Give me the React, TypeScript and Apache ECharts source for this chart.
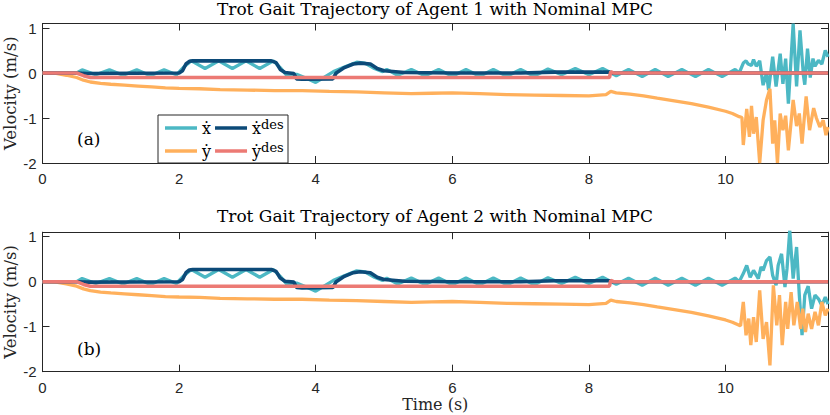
import React, { useEffect, useRef } from 'react';
import * as echarts from 'echarts';

// ---------- labels ----------
const X_DOT = '\u1E8B';
const Y_DOT = '\u1E8F';
const X_DES = X_DOT + 'des';
const Y_DES = Y_DOT + 'des';
const titles = [
  'Trot Gait Trajectory of Agent 1 with Nominal MPC',
  'Trot Gait Trajectory of Agent 2 with Nominal MPC',
];
const panelTags = ['(a)', '(b)'];
const xLabel = 'Time (s)';
const yLabel = 'Velocity (m/s)';

// ---------- data: [time (s), velocity (m/s)] ----------
// shared part (both agents look the same up to ~10.2 s)
const xDotBody: [number, number][] = [
  [0, 0], [0.3, 0], [0.5, 0], [0.58, 0.07], [0.78, -0.04], [0.98, 0.07], [1.18, -0.05],
  [1.38, 0.07], [1.58, -0.06], [1.78, 0.07], [1.96, -0.04], [2.06, 0.12], [2.18, 0.27],
  [2.38, 0.1], [2.58, 0.27], [2.78, 0.1], [2.98, 0.27], [3.18, 0.1], [3.38, 0.27],
  [3.48, 0.12], [3.58, -0.06], [3.72, -0.03], [3.88, -0.13], [4.0, -0.21], [4.14, -0.08],
  [4.26, 0.03], [4.42, 0.13], [4.6, 0.24], [4.72, 0.22], [4.86, 0.1], [4.98, 0.03],
  [5.04, 0.08], [5.2, -0.05], [5.4, 0.08], [5.6, -0.06], [5.8, 0.08], [6.0, -0.07],
  [6.2, 0.08], [6.4, -0.07], [6.6, 0.08], [6.8, -0.07], [7.0, 0.08], [7.2, -0.07],
  [7.4, 0.09], [7.6, -0.04], [7.8, 0.1], [8.0, -0.04], [8.2, 0.1], [8.4, -0.06],
  [8.58, 0.08], [8.78, -0.08], [8.97, 0.08], [9.16, -0.08], [9.36, 0.08], [9.56, -0.08],
  [9.75, 0.08], [9.95, -0.08], [10.14, 0.08],
];
const yDotBody: [number, number][] = [
  [0, 0], [0.2, -0.01], [0.35, -0.05], [0.5, -0.1], [0.6, -0.16], [0.7, -0.2], [0.85, -0.23],
  [1.0, -0.25], [1.2, -0.27], [1.4, -0.29], [1.6, -0.31], [1.8, -0.33], [2.0, -0.34],
  [2.3, -0.35], [2.6, -0.37], [3.0, -0.38], [3.4, -0.39], [3.8, -0.39], [4.2, -0.41],
  [4.6, -0.42], [5.0, -0.44], [5.4, -0.46], [5.7, -0.45], [6.0, -0.44], [6.4, -0.46],
  [6.8, -0.48], [7.2, -0.49], [7.6, -0.5], [8.0, -0.51], [8.25, -0.48], [8.32, -0.41],
  [8.4, -0.44], [8.6, -0.47], [8.8, -0.51], [9.0, -0.56], [9.25, -0.62], [9.5, -0.68],
  [9.75, -0.76], [10.0, -0.85], [10.1, -0.9], [10.2, -0.97],
];
const xDesBody: [number, number][] = [
  [0, 0], [0.5, 0], [0.65, -0.01], [2.0, 0.0], [2.05, 0.05], [2.1, 0.2], [2.15, 0.26],
  [2.2, 0.27], [3.35, 0.27], [3.42, 0.23], [3.48, 0.08], [3.55, 0.01], [3.68, -0.01],
  [3.72, -0.13], [3.8, -0.14], [4.25, -0.13], [4.3, 0.0], [4.42, 0.12], [4.55, 0.2],
  [4.65, 0.22], [4.8, 0.2], [4.9, 0.1], [5.0, 0.05], [5.3, 0.01], [6.0, 0.0], [7.0, 0.0],
  [7.5, 0.02], [8.0, 0.02], [8.3, 0.02], [8.32, 0.0], [11.5, 0.0],
];
const yDesBody: [number, number][] = [
  [0, 0], [0.5, 0], [0.6, -0.06], [0.7, -0.1], [8.3, -0.1], [8.32, 0.03], [8.36, 0.0], [11.5, 0.0],
];

// end of run, Agent 1
const xDotTail1: [number, number][] = [
  [10.2, 0.0], [10.26, 0.22], [10.3, 0.27], [10.33, 0.2], [10.38, 0.17], [10.41, 0.3],
  [10.45, 0.15], [10.5, 0.27], [10.55, -0.27], [10.6, 0.0], [10.63, -0.38], [10.69, 0.36],
  [10.74, -0.3], [10.8, 0.43], [10.84, -0.24], [10.88, 0.32], [10.92, -0.68], [10.99, 1.1],
  [11.04, -0.3], [11.09, 0.95], [11.14, -0.05], [11.16, -0.26], [11.2, 0.54], [11.24, -0.1],
  [11.28, 0.32], [11.31, 0.15], [11.36, 0.28], [11.41, 0.2], [11.46, 0.5], [11.5, 0.36],
];
const yDotTail1: [number, number][] = [
  [10.24, -0.99], [10.26, -1.6], [10.31, -0.8], [10.35, -1.42], [10.38, -0.73], [10.41, -1.35],
  [10.45, -0.98], [10.5, -2.0], [10.55, -1.05], [10.6, -0.6], [10.65, -0.35], [10.69, -1.57],
  [10.72, -1.05], [10.76, -2.0], [10.8, -0.9], [10.84, -1.27], [10.88, -0.95], [10.92, -1.72],
  [10.99, -0.6], [11.04, -1.18], [11.08, -0.9], [11.12, -1.57], [11.18, -0.52], [11.23, -1.27],
  [11.29, -0.78], [11.33, -1.0], [11.38, -1.2], [11.43, -1.05], [11.47, -1.38], [11.5, -1.2],
];
// end of run, Agent 2
const xDotTail2: [number, number][] = [
  [10.2, 0.0], [10.26, 0.18], [10.31, 0.36], [10.36, 0.1], [10.41, 0.25], [10.48, 0.07],
  [10.52, 0.33], [10.55, 0.25], [10.6, 0.47], [10.65, 0.55], [10.69, 0.14], [10.74, -0.08],
  [10.77, 0.36], [10.82, 0.62], [10.87, -0.12], [10.9, 0.29], [10.94, 1.14], [10.99, 0.07],
  [11.04, 0.77], [11.08, -0.3], [11.12, -1.19], [11.16, -0.3], [11.21, -0.1], [11.26, -0.6],
  [11.31, -0.3], [11.36, -0.38], [11.41, -0.53], [11.46, -0.34], [11.5, -0.5],
];
const yDotTail2: [number, number][] = [
  [10.22, -0.98], [10.26, -0.45], [10.3, -1.19], [10.34, -0.82], [10.37, -1.41], [10.41, -0.79],
  [10.45, -1.34], [10.5, -0.19], [10.55, -1.27], [10.6, -0.9], [10.65, -1.86], [10.7, -0.08],
  [10.75, -0.97], [10.79, -0.3], [10.83, -1.41], [10.88, -0.45], [10.91, -1.05], [10.96, -0.23],
  [11.0, -0.97], [11.05, -0.45], [11.1, -1.05], [11.13, -0.6], [11.17, -1.12], [11.21, -0.71],
  [11.26, -1.05], [11.31, -0.67], [11.36, -0.97], [11.41, -0.45], [11.46, -0.75], [11.5, -0.6],
];

const colors = { xDot: '#4CB8C4', yDot: '#FFB05C', xDes: '#0C4A78', yDes: '#EC7A74' };

export default function App() {
  const ref = useRef<HTMLDivElement>(null);
  useEffect(() => {
    if (!ref.current) return;
    const chart = echarts.init(ref.current, null, { renderer: 'svg' });
    const axisColor = '#262626';
    const sans = '"Liberation Sans", Arial, sans-serif';
    const serif = '"DejaVu Serif", serif';
    const gridTops = [23.5, 232.2];
    const intLabel = (v: number) =>
      Math.abs(v - Math.round(v)) < 1e-6 ? String(Math.round(v)) : '';
    const line = { show: true, onZero: false, lineStyle: { color: axisColor, width: 1 } };
    const tick = { show: true, inside: true, length: 7, lineStyle: { color: axisColor, width: 1 } };
    const lab = { formatter: intLabel, fontSize: 15, fontFamily: sans, color: axisColor };

    const xAxis: any[] = [];
    const yAxis: any[] = [];
    [0, 1].forEach((g) => {
      const xc = {
        gridIndex: g, type: 'value', min: 0, max: 11.5, interval: 2,
        axisLine: line, axisTick: tick, splitLine: { show: false },
      };
      xAxis.push({
        ...xc, position: 'bottom', axisLabel: { ...lab, margin: 8 },
        ...(g === 1
          ? { name: xLabel, nameLocation: 'middle', nameGap: 24.5, nameMoveOverlap: false,
              nameTextStyle: { fontFamily: serif, fontSize: 16, color: axisColor } }
          : {}),
      });
      xAxis.push({ ...xc, position: 'top', axisLabel: { show: false } });
      const yc = {
        gridIndex: g, type: 'value', min: -2, max: 1.1, interval: 1,
        axisLine: line, axisTick: tick, splitLine: { show: false },
      };
      yAxis.push({
        ...yc, position: 'left', axisLabel: { ...lab, margin: 6 },
        name: yLabel, nameLocation: 'middle', nameGap: 24, nameRotate: 90, nameMoveOverlap: false,
        nameTextStyle: { fontFamily: serif, fontSize: 16.5, color: axisColor },
      });
      yAxis.push({ ...yc, position: 'right', axisLabel: { show: false } });
    });

    const mk = (name: string, data: [number, number][], color: string, g: number, width: number) => ({
      name, type: 'line', data, xAxisIndex: g * 2, yAxisIndex: g * 2,
      showSymbol: false, symbol: 'none', clip: true,
      lineStyle: { color, width }, itemStyle: { color },
    });
    const series = [
      mk(X_DOT, [...xDotBody, ...xDotTail1], colors.xDot, 0, 3.3),
      mk(Y_DOT, [...yDotBody, ...yDotTail1], colors.yDot, 0, 3.3),
      mk(X_DES, xDesBody, colors.xDes, 0, 3.6),
      mk(Y_DES, yDesBody, colors.yDes, 0, 3.6),
      mk(X_DOT, [...xDotBody, ...xDotTail2], colors.xDot, 1, 3.3),
      mk(Y_DOT, [...yDotBody, ...yDotTail2], colors.yDot, 1, 3.3),
      mk(X_DES, xDesBody, colors.xDes, 1, 3.6),
      mk(Y_DES, yDesBody, colors.yDes, 1, 3.6),
    ];

    const rich = {
      m: { fontFamily: serif, fontSize: 16, lineHeight: 20, color: '#000' },
      s: { fontFamily: serif, fontSize: 13, lineHeight: 10, verticalAlign: 'top', color: '#000' },
    };
    const legendFmt = (name: string) =>
      name.endsWith('des') ? `{m|${name.slice(0, 1)}}{s|des}` : `{m|${name}}`;
    const legendBase = {
      left: 165, itemWidth: 32, itemHeight: 3.5, itemGap: 4, icon: 'rect', padding: 0, z: 5,
      formatter: legendFmt, textStyle: { rich }, selectedMode: false,
    };

    chart.setOption({
      animation: false,
      backgroundColor: '#fff',
      title: titles.map((t, i) => ({
        text: t, left: 435, top: i === 0 ? 0 : 207.5, textAlign: 'center', padding: 0,
        textStyle: { fontFamily: serif, fontSize: 17, fontWeight: 'normal', color: '#000', lineHeight: 17 },
      })),
      grid: gridTops.map((top) => ({
        left: 42.5, top, width: 785.5, height: 139.5, containLabel: false, outerBoundsMode: 'none',
      })),
      xAxis,
      yAxis,
      legend: [
        { ...legendBase, top: 118, data: [X_DOT, X_DES] },
        { ...legendBase, top: 141, data: [Y_DOT, Y_DES] },
      ],
      graphic: [
        { type: 'rect', z: 3, shape: { x: 158, y: 115, width: 130, height: 48 },
          style: { fill: '#fff', stroke: axisColor, lineWidth: 1 } },
        ...panelTags.map((t, i) => ({
          type: 'text', z: 5, x: 77, y: i === 0 ? 138.5 : 348.5,
          style: { text: t, fontFamily: serif, fontSize: 17, fill: '#000', verticalAlign: 'middle' },
        })),
      ],
      series,
    });
    return () => chart.dispose();
  }, []);
  return (
    <div
      ref={ref}
      style={{ position: 'fixed', left: 0, top: 0, width: 830, height: 415, background: '#fff' }}
    />
  );
}
